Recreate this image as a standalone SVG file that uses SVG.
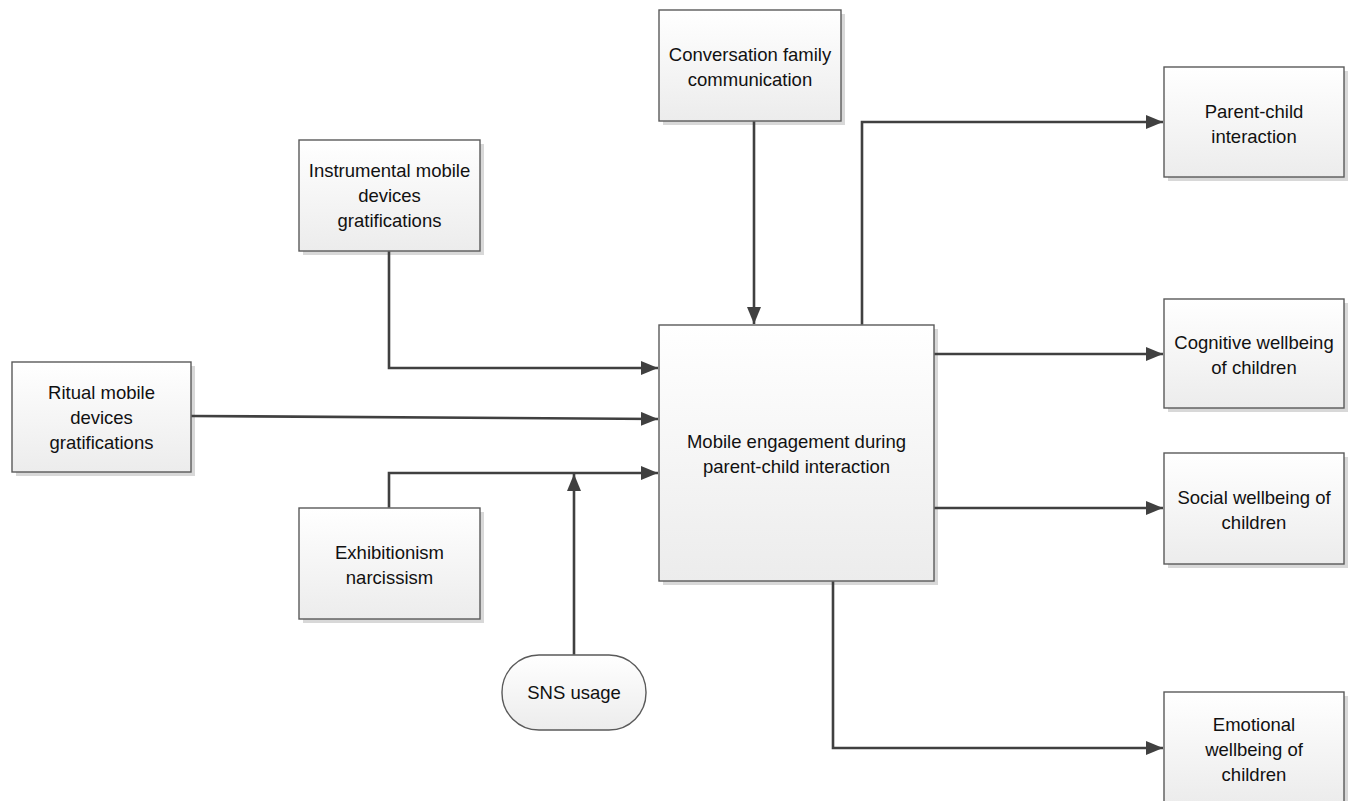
<svg xmlns="http://www.w3.org/2000/svg" width="1349" height="801" viewBox="0 0 1349 801">
<defs>
<linearGradient id="g" x1="0" y1="0" x2="0" y2="1">
<stop offset="0" stop-color="#ffffff"/>
<stop offset="1" stop-color="#ececec"/>
</linearGradient>
<marker id="arr" viewBox="0 0 17 14" refX="17" refY="7" markerWidth="17" markerHeight="14" markerUnits="userSpaceOnUse" orient="auto">
<path d="M0,0 L17,7 L0,14 Z" fill="#404040"/>
</marker>
<style>
.box{fill:url(#g);stroke:#5a5a5a;stroke-width:1.4}
.sh{fill:#d8d8d8}
.t{font-family:"Liberation Sans",Arial,sans-serif;font-size:18.5px;fill:#111111;text-anchor:middle}
.c{fill:none;stroke:#404040;stroke-width:2.6;marker-end:url(#arr)}
</style>
</defs>
<rect width="1349" height="801" fill="#ffffff"/>

<g id="conversation">
<rect class="sh" x="663" y="14" width="182" height="111"/>
<rect class="box" x="659" y="10" width="182" height="111"/>
<text class="t" x="750" y="61">Conversation family</text>
<text class="t" x="750" y="86">communication</text>
</g>

<g id="instrumental">
<rect class="sh" x="303" y="144" width="181" height="111"/>
<rect class="box" x="299" y="140" width="181" height="111"/>
<text class="t" x="389.5" y="177">Instrumental mobile</text>
<text class="t" x="389.5" y="202">devices</text>
<text class="t" x="389.5" y="227">gratifications</text>
</g>

<g id="ritual">
<rect class="sh" x="16" y="366" width="179" height="110"/>
<rect class="box" x="12" y="362" width="179" height="110"/>
<text class="t" x="101.5" y="399">Ritual mobile</text>
<text class="t" x="101.5" y="424">devices</text>
<text class="t" x="101.5" y="449">gratifications</text>
</g>

<g id="exhibitionism">
<rect class="sh" x="303" y="512" width="181" height="111"/>
<rect class="box" x="299" y="508" width="181" height="111"/>
<text class="t" x="389.5" y="559">Exhibitionism</text>
<text class="t" x="389.5" y="584">narcissism</text>
</g>

<g id="sns">
<rect class="box" x="502" y="655" width="144" height="75" rx="37" ry="37"/>
<text class="t" x="574" y="699">SNS usage</text>
</g>

<g id="main">
<rect class="sh" x="663" y="329" width="275" height="256"/>
<rect class="box" x="659" y="325" width="275" height="256"/>
<text class="t" x="796.5" y="448">Mobile engagement during</text>
<text class="t" x="796.5" y="473">parent-child interaction</text>
</g>

<g id="parentchild">
<rect class="sh" x="1168" y="71" width="180" height="110"/>
<rect class="box" x="1164" y="67" width="180" height="110"/>
<text class="t" x="1254" y="118">Parent-child</text>
<text class="t" x="1254" y="143">interaction</text>
</g>

<g id="cognitive">
<rect class="sh" x="1168" y="303" width="180" height="109"/>
<rect class="box" x="1164" y="299" width="180" height="109"/>
<text class="t" x="1254" y="349">Cognitive wellbeing</text>
<text class="t" x="1254" y="374">of children</text>
</g>

<g id="social">
<rect class="sh" x="1168" y="457" width="180" height="111"/>
<rect class="box" x="1164" y="453" width="180" height="111"/>
<text class="t" x="1254" y="504">Social wellbeing of</text>
<text class="t" x="1254" y="529">children</text>
</g>

<g id="emotional">
<rect class="sh" x="1168" y="696" width="180" height="111"/>
<rect class="box" x="1164" y="692" width="180" height="111"/>
<text class="t" x="1254" y="731">Emotional</text>
<text class="t" x="1254" y="756">wellbeing of</text>
<text class="t" x="1254" y="781">children</text>
</g>

<g id="connectors">
<path class="c" d="M754,121.5 V324"/>
<path class="c" d="M389,251.5 V368 H658"/>
<path class="c" d="M191.5,416 L658,419"/>
<path class="c" d="M389,507.5 V473 H658"/>
<path class="c" d="M574,654.5 V474"/>
<path class="c" d="M862,324.5 V122 H1163"/>
<path class="c" d="M934.5,354 H1163"/>
<path class="c" d="M934.5,508 H1163"/>
<path class="c" d="M833,581.5 V748 H1163"/>
</g>
</svg>
